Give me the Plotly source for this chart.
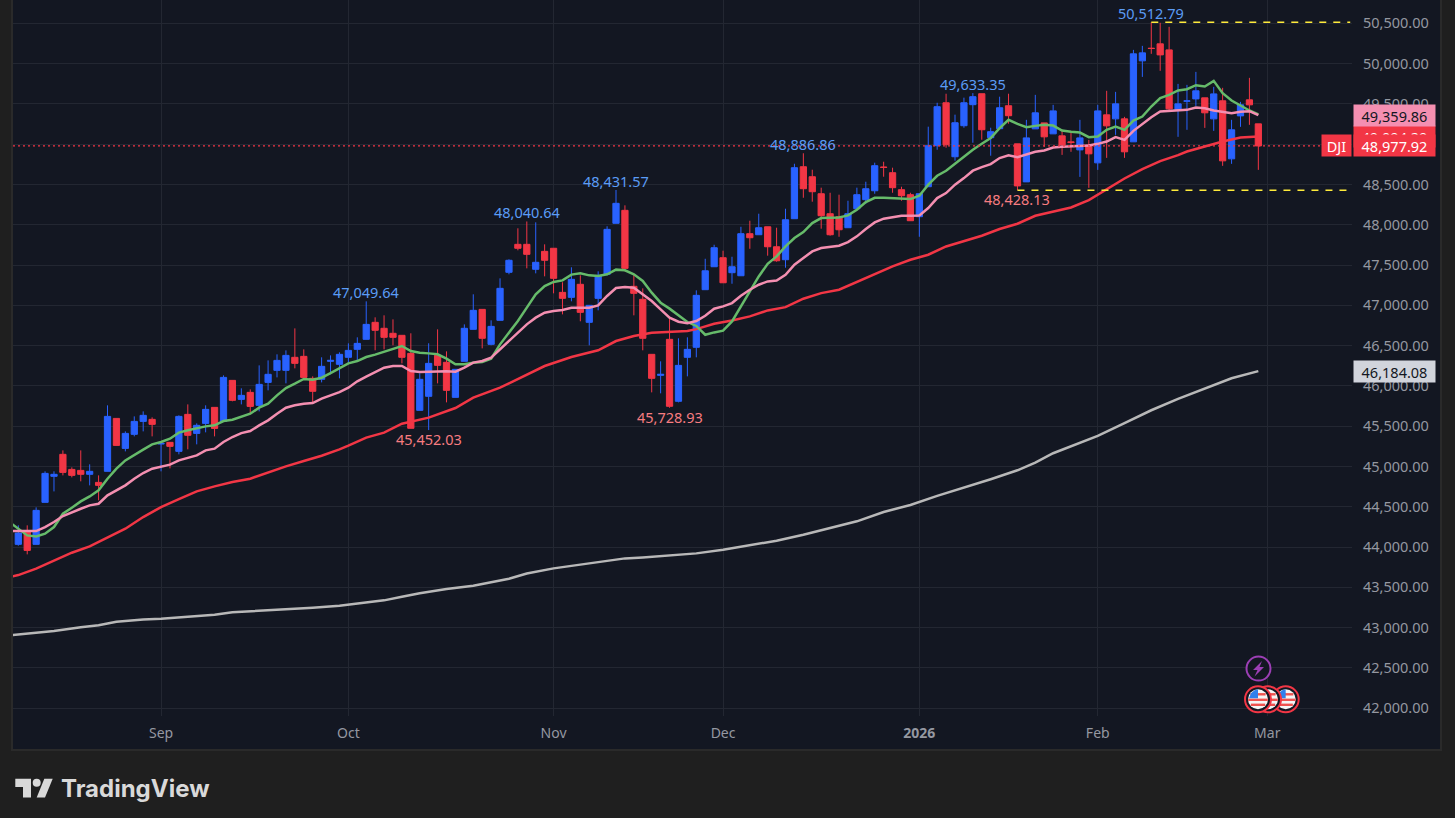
import math
import pandas as pd
import plotly.graph_objects as go

# trading days, first one is only there so the averages run off the left edge
holidays = ["2025-09-01", "2025-11-27", "2025-12-25", "2026-01-01", "2026-01-19", "2026-02-16"]
dates = [d.strftime("%Y-%m-%d") for d in pd.bdate_range("2025-08-07", "2026-03-31")
         if d.strftime("%Y-%m-%d") not in holidays]
month_ticks = ["2025-09-02", "2025-10-01", "2025-11-03", "2025-12-01", "2026-01-02", "2026-02-02", "2026-03-02"]
month_labels = ["Sep", "Oct", "Nov", "Dec", "<b>2026</b>", "Feb", "Mar"]
price_ticks = [42000, 42500, 43000, 43500, 44000, 44500, 45000, 45500, 46000,
               46500, 47000, 47500, 48000, 48500, 49000, 49500, 50000, 50500]

open_ = [44034, 44187, 44034, 44555, 44878, 45151, 44964, 44952, 44903, 44803,
         44940, 45597, 45225, 45399, 45560, 45585, 45279, 45300, 45188, 45647,
         45411, 45535, 45734, 45560, 46069, 45833, 45920, 45759, 46044, 46193,
         46193, 46355, 46367, 46094, 46082, 46305, 46268, 46355, 46454, 46578,
         46789, 46715, 46653, 46628, 46404, 45697, 45871, 46380, 46293, 45858,
         46305, 46702, 46950, 46516, 46814, 47410, 47757, 47757, 47447, 47670,
         47708, 47161, 47099, 47261, 46789, 47087, 47385, 48018, 48179, 47236,
         47075, 46392, 46131, 46578, 45809, 46355, 46479, 47194, 47479, 47591,
         47405, 47367, 47889, 47876, 47975, 47727, 47566, 48075, 48720, 48596,
         48385, 48137, 48100, 47963, 48199, 48311, 48422, 48716, 48646, 48435,
         48373, 48100, 48472, 48981, 49514, 48844, 49229, 49490, 49626, 49080,
         49192, 49477, 49004, 48532, 49190, 49264, 49128, 49103, 49029, 48929,
         48991, 48768, 49364, 49314, 49314, 49029, 50034, 50191, 50245, 50170,
         49426, 49533, 49562, 49575, 49314, 49538, 48818, 49351, 49550, 49252]
high = [44270, 44270, 44493, 44940, 44940, 45200, 44989, 45200, 45027, 44890,
        45759, 45597, 45436, 45622, 45684, 45610, 45287, 45300, 45635, 45771,
        45535, 45759, 45734, 46131, 46069, 45970, 45957, 46255, 46317, 46392,
        46441, 46714, 46454, 46119, 46355, 46379, 46417, 46528, 46603, 47049.64,
        46851, 46876, 46826, 46628, 46653, 46156, 46529, 46702, 46429, 46206,
        46764, 47137, 46950, 46814, 47335, 47571, 47956, 48040.64, 48030, 47757,
        47708, 47286, 47472, 47372, 47000, 47422, 47981, 48431.57, 48241, 47385,
        47211, 46392, 46305, 46851, 46591, 46603, 47186, 47578, 47752, 47678,
        47603, 47975, 48050, 48137, 47975, 47963, 48199, 48757, 48886.86, 48683,
        48460, 48397, 48373, 48298, 48460, 48534, 48770, 48782, 48708, 48472,
        48397, 48385, 49217, 49514, 49626, 49366, 49577, 49633.35, 49626, 49204,
        49589, 49626, 49004, 49302, 49612, 49264, 49488, 49165, 49165, 49302,
        49053, 49488, 49662, 49649, 49339, 50170, 50220, 50512.79, 50506, 50456,
        49748, 49736, 49897, 49575, 49711, 49699, 49302, 49525, 49823, 49252]
low = [44017, 43910, 44034, 44555, 44691, 44890, 44865, 44816, 44766, 44580,
       44940, 45262, 45188, 45374, 45436, 45374, 44940, 44977, 45151, 45213,
       45275, 45424, 45374, 45560, 45809, 45771, 45660, 45684, 45945, 46106,
       46032, 46218, 46106, 45784, 46044, 46144, 46094, 46276, 46305, 46578,
       46442, 46454, 46504, 46280, 45474, 45697, 45452.03, 46032, 45796, 45858,
       46305, 46702, 46466, 46504, 46814, 47385, 47683, 47459, 47397, 47360,
       47149, 46888, 47050, 46802, 46504, 46938, 47372, 48018, 47422, 46876,
       46442, 45920, 45908, 45728.93, 45796, 46119, 46355, 47194, 47479, 47280,
       47268, 47367, 47702, 47876, 47616, 47541, 47467, 48075, 48335, 48286,
       47951, 47864, 47851, 47963, 48186, 48261, 48385, 48596, 48397, 48298,
       48050, 47851, 48472, 48931, 48956, 48795, 49204, 49018, 49055, 48857,
       49192, 49254, 48428.13, 48532, 49190, 48967, 49128, 48867, 48905, 48594,
       48458, 48681, 48830, 49115, 48830, 49029, 49835, 50121, 49910, 49413,
       49091, 49178, 49475, 49202, 49165, 48731, 48756, 49215, 49240, 48681]
close = [44174, 43959, 44456, 44915, 44903, 44927, 44890, 44903, 44940, 44766,
         45622, 45262, 45411, 45560, 45635, 45523, 45287, 45250, 45622, 45387,
         45511, 45709, 45473, 46106, 45821, 45883, 45746, 46019, 46144, 46317,
         46379, 46280, 46106, 45933, 46243, 46317, 46392, 46441, 46528, 46764,
         46690, 46603, 46603, 46355, 45474, 46082, 46280, 46255, 45945, 46206,
         46715, 46938, 46591, 46739, 47211, 47559, 47708, 47633, 47534, 47559,
         47335, 47087, 47323, 46913, 47000, 47372, 47943, 48266, 47459, 47149,
         46591, 46094, 46144, 45747, 46255, 46454, 47124, 47429, 47715, 47280,
         47479, 47889, 47839, 47963, 47727, 47553, 48062, 48708, 48447, 48410,
         48112, 47876, 47938, 48137, 48373, 48447, 48733, 48712, 48460, 48360,
         48050, 48385, 48981, 49465, 48993, 49266, 49514, 49589, 49179, 49155,
         49452, 49353, 48482, 49078, 49389, 49091, 49413, 48991, 49020, 49078,
         48880, 49413, 49227, 49500, 48905, 50121, 50133, 50187, 50108, 49438,
         49500, 49537, 49662, 49389, 49624, 48793, 49178, 49488, 49488, 48977.92]

# averages, one value per day starting from the hidden first day
ma_green = [44311, 44228, 44145, 44133, 44166, 44249, 44414, 44489, 44567, 44629, 44704,
            44849, 44973, 45076, 45138, 45209, 45275, 45304, 45345, 45420, 45449,
            45477, 45498, 45511, 45564, 45581, 45614, 45655, 45730, 45780, 45883,
            45974, 46028, 46086, 46077, 46102, 46160, 46222, 46280, 46309, 46359,
            46388, 46421, 46462, 46495, 46433, 46413, 46404, 46392, 46338, 46268,
            46268, 46289, 46297, 46338, 46516, 46661, 46806, 46971, 47137, 47240,
            47290, 47310, 47381, 47397, 47372, 47364, 47385, 47443, 47435, 47385,
            47302, 47157, 47033, 46959, 46876, 46793, 46744, 46635, 46664, 46685,
            46801, 46987, 47173, 47359, 47516, 47607, 47731, 47835, 47909, 48021,
            48083, 48091, 48091, 48116, 48186, 48282, 48335, 48335, 48331, 48327,
            48319, 48360, 48497, 48608, 48670, 48757, 48848, 48931, 49006, 49076,
            49200, 49303, 49252, 49211, 49227, 49240, 49231, 49169, 49153, 49144,
            49087, 49095, 49178, 49219, 49178, 49293, 49343, 49467, 49571, 49612,
            49666, 49682, 49732, 49715, 49786, 49633, 49542, 49475, 49418, 49368]
ma_pink = [44199, 44199, 44195, 44199, 44249, 44311, 44385, 44435, 44476, 44518, 44538,
           44642, 44704, 44766, 44849, 44919, 44973, 44994, 45023, 45076, 45105,
           45138, 45200, 45221, 45304, 45366, 45415, 45440, 45511, 45573, 45655,
           45730, 45759, 45780, 45788, 45842, 45883, 45924, 45978, 46057, 46115,
           46173, 46226, 46247, 46247, 46185, 46173, 46177, 46181, 46181, 46177,
           46226, 46289, 46309, 46351, 46454, 46557, 46661, 46764, 46847, 46909,
           46930, 46942, 46971, 46971, 46971, 47000, 47116, 47215, 47228, 47219,
           47137, 47054, 46950, 46847, 46797, 46777, 46806, 46871, 46958, 46987,
           47028, 47119, 47194, 47256, 47297, 47309, 47380, 47504, 47587, 47669,
           47711, 47723, 47740, 47785, 47856, 47947, 48029, 48075, 48095, 48112,
           48112, 48116, 48207, 48331, 48393, 48497, 48579, 48671, 48716, 48753,
           48828, 48861, 48838, 48871, 48905, 48921, 48958, 48967, 48971, 48979,
           48983, 49004, 49033, 49087, 49053, 49165, 49252, 49335, 49405, 49409,
           49418, 49426, 49455, 49446, 49418, 49401, 49384, 49401, 49409, 49359.86]
# the two slow averages were read at fewer days
ma_red_days = [0, 1, 3, 5, 7, 9, 11, 13, 15, 17, 19, 21, 23, 25, 27, 29, 31, 33, 35, 37, 38,
               40, 42, 44, 47, 50, 52, 55, 57, 60, 63, 66, 68, 70, 72, 74, 76, 77, 79, 81,
               83, 85, 87, 89, 91, 93, 95, 97, 99, 101, 103, 105, 107, 109, 111, 113,
               115, 117, 119, 121, 123, 125, 127, 129, 131, 132, 134, 136, 138, 140]
ma_red = [43628, 43653, 43732, 43835, 43930, 44009, 44116, 44228, 44373, 44497, 44596,
          44691, 44753, 44807, 44849, 44927, 45002, 45068, 45134, 45213, 45258,
          45358, 45420, 45531, 45606, 45726, 45854, 45978, 46082, 46247, 46359,
          46442, 46557, 46620, 46661, 46669, 46682, 46705, 46772, 46813, 46863,
          46937, 46978, 47082, 47152, 47194, 47289, 47392, 47483, 47566, 47628,
          47731, 47793, 47864, 47947, 48013, 48111, 48161, 48214, 48305, 48442,
          48574, 48690, 48790, 48864, 48909, 48971, 49033, 49082, 49094.29]
ma_white_days = [0, 1, 3, 5, 8, 10, 12, 15, 17, 20, 23, 25, 28, 32, 34, 37, 39, 42, 44, 46,
                 49, 52, 56, 58, 61, 63, 66, 69, 71, 74, 77, 80, 83, 86, 89, 92, 95, 98,
                 101, 104, 107, 110, 113, 115, 117, 120, 122, 125, 128, 131, 134, 137, 140]
ma_white = [42905, 42917, 42934, 42958, 43004, 43029, 43074, 43103, 43111, 43132, 43161,
            43190, 43207, 43236, 43248, 43273, 43302, 43339, 43384, 43426, 43479, 43520,
            43607, 43673, 43736, 43765, 43814, 43860, 43872, 43893, 43922, 43967, 44021,
            44079, 44153, 44232, 44320, 44436, 44523, 44635, 44734, 44842, 44953, 45049,
            45165, 45293, 45380, 45537, 45698, 45839, 45971, 46095, 46184.08]

BLUE = "#2962ff"
RED = "#f23645"
PINK = "#f48fb1"
GREEN = "#66bb6a"
GREY_LINE = "#b8b8b8"
PANEL = "#131722"
PAGE = "#1f1f1f"
GRID = "#232732"
TEXT = "#9598a1"
FONT = "Noto Sans"

# plot box inside the 1455x818 page
L, R, T, B = 13, 1352, 0, 716


def px_x(v):
    return (v - L) / (R - L)


def px_y(v):
    return 1 - (v - T) / (B - T)


def circle(cx, cy, r, **kw):
    return dict(type="circle", xref="paper", yref="paper", x0=px_x(cx - r), x1=px_x(cx + r),
                y0=px_y(cy - r), y1=px_y(cy + r), **kw)


def poly(points, color):
    path = "M " + " L ".join(f"{px_x(a)},{px_y(b)}" for a, b in points) + " Z"
    return dict(type="path", xref="paper", yref="paper", path=path, fillcolor=color, line_width=0)


def flag(cx, cy):
    r = 10
    out = [circle(cx, cy, 13, fillcolor=PANEL, line=dict(color=RED, width=2)),
           circle(cx, cy, r, fillcolor="#f5f5f5", line_width=0)]
    for dy in (-5, 0.5, 5.5):
        a = math.sqrt(r ** 2 - (abs(dy) + 1.5) ** 2)
        out.append(poly([(cx - a, cy + dy - 1.2), (cx + a, cy + dy - 1.2),
                         (cx + a, cy + dy + 1.2), (cx - a, cy + dy + 1.2)], "#ef5350"))
    out.append(poly([(cx - 9, cy - 1), (cx - 7, cy - 6), (cx - 3.5, cy - 9), (cx, cy - 10),
                     (cx, cy - 1)], "#2f80ed"))
    return out


fig = go.Figure()

fig.add_trace(go.Scatter(x=[dates[i] for i in ma_white_days], y=ma_white, mode="lines",
                         line=dict(color=GREY_LINE, width=2.5)))
fig.add_trace(go.Scatter(x=[dates[i] for i in ma_red_days], y=ma_red, mode="lines",
                         line=dict(color=RED, width=2.5)))
fig.add_trace(go.Scatter(x=dates[:len(ma_green)], y=ma_green, mode="lines",
                         line=dict(color=GREEN, width=2.5)))
fig.add_trace(go.Scatter(x=dates[:len(ma_pink)], y=ma_pink, mode="lines",
                         line=dict(color=PINK, width=2.5)))
fig.add_trace(go.Candlestick(
    x=dates[1:len(open_) + 1], open=open_, high=high, low=low, close=close,
    increasing=dict(line=dict(color=BLUE, width=1), fillcolor=BLUE),
    decreasing=dict(line=dict(color=RED, width=1), fillcolor=RED),
    whiskerwidth=0,
))

shapes = [
    # panel and its frame
    dict(type="rect", xref="paper", yref="paper", x0=px_x(12), x1=px_x(1441), y0=px_y(-2), y1=px_y(750),
         fillcolor=PANEL, line=dict(color="#2a2a2a", width=2), layer="below"),
    # last price
    dict(type="line", xref="paper", yref="y", x0=0, x1=1, y0=close[-1], y1=close[-1],
         line=dict(color=RED, width=1.3, dash="2px,3px")),
    # high / low of the visible range
    dict(type="line", xref="x", yref="y", x0=dates[128], x1=150.3, y0=50512.79, y1=50512.79,
         line=dict(color="#ffeb3b", width=1.3, dash="7px,7px")),
    dict(type="line", xref="x", yref="y", x0=dates[113], x1=150.3, y0=48428.13, y1=48428.13,
         line=dict(color="#ffeb3b", width=1.3, dash="7px,7px")),
    # event marker with the bolt
    circle(1258.5, 668.6, 12, fillcolor=PANEL, line=dict(color="#9c3fb5", width=2)),
    poly([(1262, 661), (1253, 670), (1257.5, 670), (1254.5, 676.5), (1264, 667), (1259.5, 667)], "#9c3fb5"),
    # logo
    poly([(15.3, 778.7), (31, 778.7), (31, 797.5), (23, 797.5), (23, 787), (15.3, 787)], "#d9d9d9"),
    poly([(44.3, 778.7), (52.7, 778.7), (45, 797.5), (36.7, 797.5)], "#d9d9d9"),
    circle(36.7, 782.7, 4, fillcolor="#d9d9d9", line_width=0),
]
for cx in (1285.7, 1268, 1258):
    shapes += flag(cx, 699.3)

annotations = []


def extreme(day, price, text, color, above):
    annotations.append(dict(
        x=dates[day + 1], y=price, xref="x", yref="y", text=text, showarrow=False,
        font=dict(family=FONT, size=14.5, color=color),
        yanchor="bottom" if above else "top", yshift=-3 if above else 3,
    ))


for day, price, text in [(39, 47049.64, "47,049.64"), (57, 48040.64, "48,040.64"), (67, 48431.57, "48,431.57"),
                         (88, 48886.86, "48,886.86"), (107, 49633.35, "49,633.35"), (127, 50512.79, "50,512.79")]:
    extreme(day, price, text, "#5b9cf6", True)
for day, price, text in [(46, 45452.03, "45,452.03"), (73, 45728.93, "45,728.93"), (112, 48428.13, "48,428.13")]:
    extreme(day, price, text, "#f77c80", False)


def tag(price, text, bg, fg, x0=1353, w=81):
    annotations.append(dict(
        xref="paper", yref="y", x=px_x(x0), y=price, xanchor="left", yanchor="middle",
        text=text, showarrow=False, width=w, height=21, align="center", bgcolor=bg, borderpad=0,
        font=dict(family=FONT, size=14.5, color=fg),
    ))


tag(46184.08, "46,184.08", "#d1d4dc", "#131722")
tag(49094.29, "49,094.29", RED, "#ffffff")
tag(49359.86, "49,359.86", PINK, "#131722")
tag(48977.92, "48,977.92", RED, "#ffffff")
tag(48977.92, "DJI", RED, "#ffffff", x0=1321, w=29)

annotations.append(dict(
    xref="paper", yref="paper", x=px_x(59), y=px_y(788.5), xanchor="left", yanchor="middle",
    text="<b>TradingView</b>", showarrow=False, font=dict(family="Inter", size=24, color="#d9d9d9"),
))

fig.update_layout(
    width=1455, height=818,
    margin=dict(l=L, r=1455 - R, t=T, b=818 - B, pad=0),
    autosize=False,
    paper_bgcolor=PAGE,
    plot_bgcolor=PANEL,
    showlegend=False,
    hovermode=False,
    boxgap=0.3,
    boxgroupgap=0,
    shapes=shapes,
    annotations=annotations,
    xaxis=dict(
        type="category", categoryorder="array", categoryarray=dates,
        range=[0.406, 150.5], rangeslider=dict(visible=False),
        tickmode="array", tickvals=month_ticks, ticktext=month_labels,
        showgrid=True, gridcolor=GRID, gridwidth=1, zeroline=False, showline=False, ticks="",
        ticklabelstandoff=7,
        tickfont=dict(family=FONT, size=14, color=TEXT),
    ),
    yaxis=dict(
        side="right", range=[41904, 50789],
        tickmode="array", tickvals=price_ticks, tickformat=",.2f",
        showgrid=True, gridcolor=GRID, gridwidth=1, zeroline=False, showline=False, ticks="",
        ticklabelstandoff=10,
        tickfont=dict(family=FONT, size=14.5, color=TEXT),
    ),
)

fig.write_html(
    "out.html",
    config=dict(displayModeBar=False),
    post_script="document.body.style.margin='0';document.body.style.overflow='hidden';"
                "document.body.style.background='" + PAGE + "';",
)
